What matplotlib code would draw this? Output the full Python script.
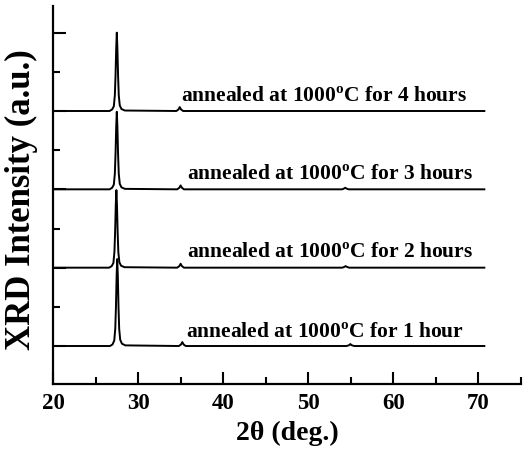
import matplotlib
matplotlib.use("Agg")
import matplotlib.pyplot as plt
from matplotlib.ticker import MultipleLocator

plt.rcParams['font.family'] = ['Liberation Serif', 'DejaVu Serif']
plt.rcParams['font.weight'] = 'bold'
plt.rcParams['mathtext.fontset'] = 'custom'
plt.rcParams['mathtext.rm'] = 'Liberation Serif:bold'
plt.rcParams['mathtext.bf'] = 'Liberation Serif:bold'

# Curves (offset baselines 0..3)
labels = ["annealed at 1000$^{\\mathrm{o}}$C for 1 hour",
          "annealed at 1000$^{\\mathrm{o}}$C for 2 hours",
          "annealed at 1000$^{\\mathrm{o}}$C for 3 hours",
          "annealed at 1000$^{\\mathrm{o}}$C for 4 hours"]
offsets = [0, 1, 2, 3]

x_1h = [20.0, 26.7, 27.0, 27.2, 27.32, 27.4, 27.48, 27.55, 27.62, 27.7, 27.78, 27.9, 28.1, 28.5,
        34.8, 35.05, 35.2, 35.35, 35.6, 54.5, 54.8, 54.95, 55.1, 55.4, 70.7]
y_1h = [0.0, 0.0, 0.02, 0.07, 0.22, 0.5, 0.9, 1.11, 0.9, 0.5, 0.22, 0.08, 0.03, 0.008,
        0.0, 0.02, 0.05, 0.02, 0.0, 0.0, 0.01, 0.025, 0.01, 0.0, 0.0]

x_2h = [20.0, 26.6, 26.9, 27.1, 27.22, 27.3, 27.38, 27.45, 27.52, 27.6, 27.68, 27.8, 28.0, 28.4,
        34.6, 34.85, 35.0, 35.15, 35.4, 54.0, 54.25, 54.4, 54.55, 54.8, 70.7]
y_2h = [0.0, 0.0, 0.02, 0.06, 0.2, 0.45, 0.8, 0.99, 0.8, 0.45, 0.2, 0.07, 0.025, 0.006,
        0.0, 0.02, 0.05, 0.02, 0.0, 0.0, 0.01, 0.02, 0.01, 0.0, 0.0]

x_3h = [20.0, 26.65, 26.95, 27.15, 27.27, 27.35, 27.43, 27.5, 27.57, 27.65, 27.73, 27.85, 28.05, 28.45,
        34.6, 34.85, 35.0, 35.15, 35.4, 54.0, 54.2, 54.35, 54.5, 54.75, 70.7]
y_3h = [0.0, 0.0, 0.02, 0.06, 0.2, 0.45, 0.8, 0.99, 0.8, 0.45, 0.2, 0.07, 0.025, 0.006,
        0.0, 0.02, 0.05, 0.02, 0.0, 0.0, 0.01, 0.02, 0.01, 0.0, 0.0]

x_4h = [20.0, 26.65, 26.95, 27.15, 27.27, 27.35, 27.43, 27.5, 27.57, 27.65, 27.73, 27.85, 28.05, 28.45,
        34.5, 34.75, 34.9, 35.05, 35.3, 70.7]
y_4h = [0.0, 0.0, 0.02, 0.06, 0.2, 0.45, 0.8, 1.0, 0.8, 0.45, 0.2, 0.07, 0.025, 0.006,
        0.0, 0.02, 0.05, 0.02, 0.0, 0.0]

curves_x = [x_1h, x_2h, x_3h, x_4h]
curves_y = [y_1h, y_2h, y_3h, y_4h]
label_x = [35.6, 35.73, 35.73, 35.02]
label_dy = [0.115, 0.14, 0.13, 0.13]

fig = plt.figure(figsize=(5.31, 4.56), dpi=100)
ax = fig.add_axes([0.0998, 0.1557, 0.8812, 0.8289])

for xs, ys, off, lab, lx, ldy in zip(curves_x, curves_y, offsets, labels, label_x, label_dy):
    ax.plot(xs, [v + off for v in ys], color='black', lw=1.4)
    ax.text(lx, off + ldy, lab, fontsize=15.5, fontweight='bold', ha='left', va='baseline')

ax.set_xlim(20, 75)
ax.set_ylim(-0.485, 4.34)
ax.xaxis.set_major_locator(MultipleLocator(10))
ax.xaxis.set_minor_locator(MultipleLocator(5))
ax.yaxis.set_major_locator(MultipleLocator(1))
ax.yaxis.set_minor_locator(MultipleLocator(0.5))
ax.set_xticks([20, 30, 40, 50, 60, 70])
ax.set_yticklabels([])
ax.tick_params(which='both', direction='in', width=1.5)
ax.tick_params(which='major', length=9)
ax.tick_params(which='minor', length=5)
ax.tick_params(axis='x', labelsize=16.5, pad=6)
for lab in ax.get_xticklabels():
    lab.set_fontweight('bold')
for s in ['top', 'right']:
    ax.spines[s].set_visible(False)
for s in ['left', 'bottom']:
    ax.spines[s].set_linewidth(1.6)

ax.set_xlabel("2θ (deg.)", fontsize=20, fontweight='bold', labelpad=5)
ax.set_ylabel("XRD Intensity (a.u.)", fontsize=25, fontweight='bold')
ax.yaxis.set_label_coords(-0.032, 0.49)

fig.savefig("out.png", dpi=100)
